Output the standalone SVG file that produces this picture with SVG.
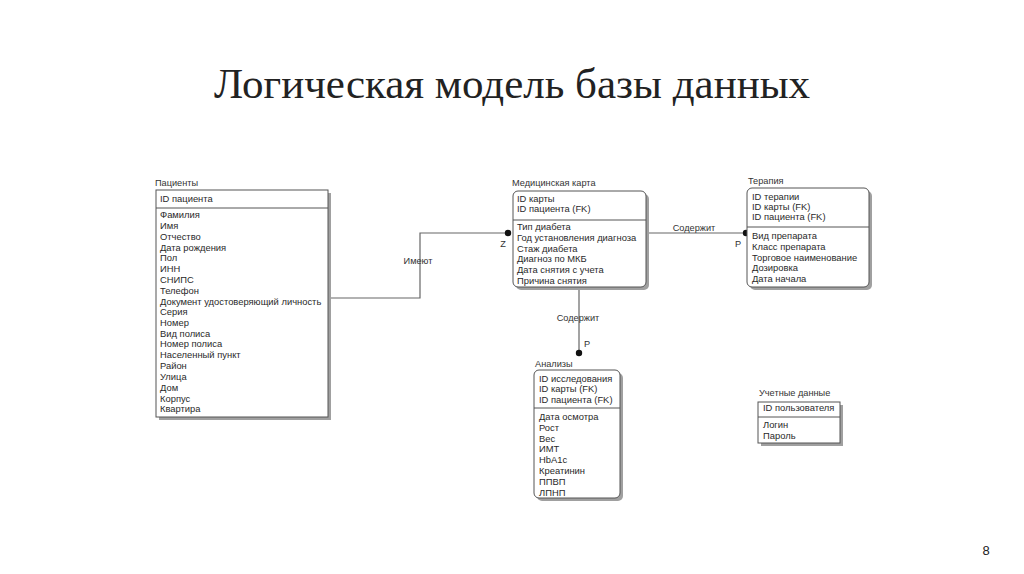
<svg xmlns="http://www.w3.org/2000/svg" width="1024" height="574" viewBox="0 0 1024 574">
<style>
.t{font-family:"Liberation Sans",Arial,sans-serif;font-size:9.4px;fill:#2a2a2a}
.lbl{font-family:"Liberation Sans",Arial,sans-serif;font-size:9.2px;fill:#333}
.box{fill:#fff;stroke:#555;stroke-width:1}
.sh{fill:#a0a0a0}
.div{stroke:#555;stroke-width:1}
.c{fill:none;stroke:#666;stroke-width:1.2}
.title{font-family:"Liberation Serif","Times New Roman",serif;font-size:43px;fill:#222}
</style>
<rect width="1024" height="574" fill="#fff"/>
<text class="title" x="512" y="98" text-anchor="middle">Логическая модель базы данных</text>
<text x="986" y="555" font-family="Liberation Sans,Arial,sans-serif" font-size="13" fill="#222" text-anchor="middle">8</text>

<g id="connectors">
<polyline class="c" points="328,298 420,298 420,233 508,233"/>
<circle cx="508" cy="233" r="3.2" fill="#111"/>
<text class="lbl" x="418" y="264" text-anchor="middle">Имеют</text>
<text class="lbl" x="503" y="247" text-anchor="middle">Z</text>
<line class="c" x1="646" y1="233" x2="746" y2="233"/>
<circle cx="746" cy="233" r="3.2" fill="#111"/>
<text class="lbl" x="694" y="231" text-anchor="middle">Содержит</text>
<text class="lbl" x="738" y="247" text-anchor="middle">P</text>
<line class="c" x1="579" y1="287" x2="579" y2="353"/>
<circle cx="579" cy="353" r="3.2" fill="#111"/>
<text class="lbl" x="578" y="321" text-anchor="middle">Содержит</text>
<text class="lbl" x="587" y="347" text-anchor="middle">P</text>
</g>

<g id="patients">
<text class="lbl" x="155" y="186">Пациенты</text>
<rect class="sh" x="159" y="193" width="172" height="227"/>
<rect class="box" x="156" y="190" width="172" height="227"/>
<line class="div" x1="156" y1="208" x2="328" y2="208"/>
<text class="t" x="160" y="202">ID пациента</text>
<text class="t" x="160" y="218">Фамилия</text>
<text class="t" x="160" y="229">Имя</text>
<text class="t" x="160" y="240">Отчество</text>
<text class="t" x="160" y="251">Дата рождения</text>
<text class="t" x="160" y="261">Пол</text>
<text class="t" x="160" y="272">ИНН</text>
<text class="t" x="160" y="283">СНИПС</text>
<text class="t" x="160" y="294">Телефон</text>
<text class="t" x="160" y="305">Документ удостоверяющий личность</text>
<text class="t" x="160" y="315">Серия</text>
<text class="t" x="160" y="326">Номер</text>
<text class="t" x="160" y="337">Вид полиса</text>
<text class="t" x="160" y="347">Номер полиса</text>
<text class="t" x="160" y="358">Населенный пункт</text>
<text class="t" x="160" y="369">Район</text>
<text class="t" x="160" y="380">Улица</text>
<text class="t" x="160" y="391">Дом</text>
<text class="t" x="160" y="402">Корпус</text>
<text class="t" x="160" y="412">Квартира</text>
</g>

<g id="medcard">
<text class="lbl" x="512" y="186">Медицинская карта</text>
<rect class="sh" x="516" y="194" width="133" height="96" rx="5"/>
<rect class="box" x="513" y="191" width="133" height="96" rx="5"/>
<line class="div" x1="513" y1="220" x2="646" y2="220"/>
<text class="t" x="517" y="202">ID карты</text>
<text class="t" x="517" y="212">ID пациента (FK)</text>
<text class="t" x="517" y="230">Тип диабета</text>
<text class="t" x="517" y="241">Год установления диагноза</text>
<text class="t" x="517" y="252">Стаж диабета</text>
<text class="t" x="517" y="262">Диагноз по МКБ</text>
<text class="t" x="517" y="273">Дата снятия с учета</text>
<text class="t" x="517" y="284">Причина снятия</text>
</g>

<g id="therapy">
<text class="lbl" x="748" y="184">Терапия</text>
<rect class="sh" x="750" y="191" width="122" height="99" rx="5"/>
<rect class="box" x="747" y="188" width="122" height="99" rx="5"/>
<line class="div" x1="747" y1="227" x2="869" y2="227"/>
<text class="t" x="752" y="200">ID терапии</text>
<text class="t" x="752" y="210">ID карты (FK)</text>
<text class="t" x="752" y="220">ID пациента (FK)</text>
<text class="t" x="752" y="239">Вид препарата</text>
<text class="t" x="752" y="250">Класс препарата</text>
<text class="t" x="752" y="261">Торговое наименование</text>
<text class="t" x="752" y="271">Дозировка</text>
<text class="t" x="752" y="282">Дата начала</text>
</g>

<g id="analyses">
<text class="lbl" x="535" y="367">Анализы</text>
<rect class="sh" x="537" y="373" width="86" height="128" rx="5"/>
<rect class="box" x="534" y="370" width="86" height="128" rx="5"/>
<line class="div" x1="534" y1="408" x2="620" y2="408"/>
<text class="t" x="539" y="382">ID исследования</text>
<text class="t" x="539" y="392">ID карты (FK)</text>
<text class="t" x="539" y="403">ID пациента (FK)</text>
<text class="t" x="539" y="420">Дата осмотра</text>
<text class="t" x="539" y="431">Рост</text>
<text class="t" x="539" y="442">Вес</text>
<text class="t" x="539" y="452">ИМТ</text>
<text class="t" x="539" y="463">HbA1c</text>
<text class="t" x="539" y="474">Креатинин</text>
<text class="t" x="539" y="485">ППВП</text>
<text class="t" x="539" y="496">ЛПНП</text>
</g>

<g id="credentials">
<text class="lbl" x="759" y="396">Учетные данные</text>
<rect class="sh" x="761" y="405" width="82" height="41"/>
<rect class="box" x="758" y="402" width="82" height="41"/>
<line class="div" x1="758" y1="417" x2="840" y2="417"/>
<text class="t" x="763" y="411">ID пользователя</text>
<text class="t" x="763" y="428">Логин</text>
<text class="t" x="763" y="439">Пароль</text>
</g>
</svg>
